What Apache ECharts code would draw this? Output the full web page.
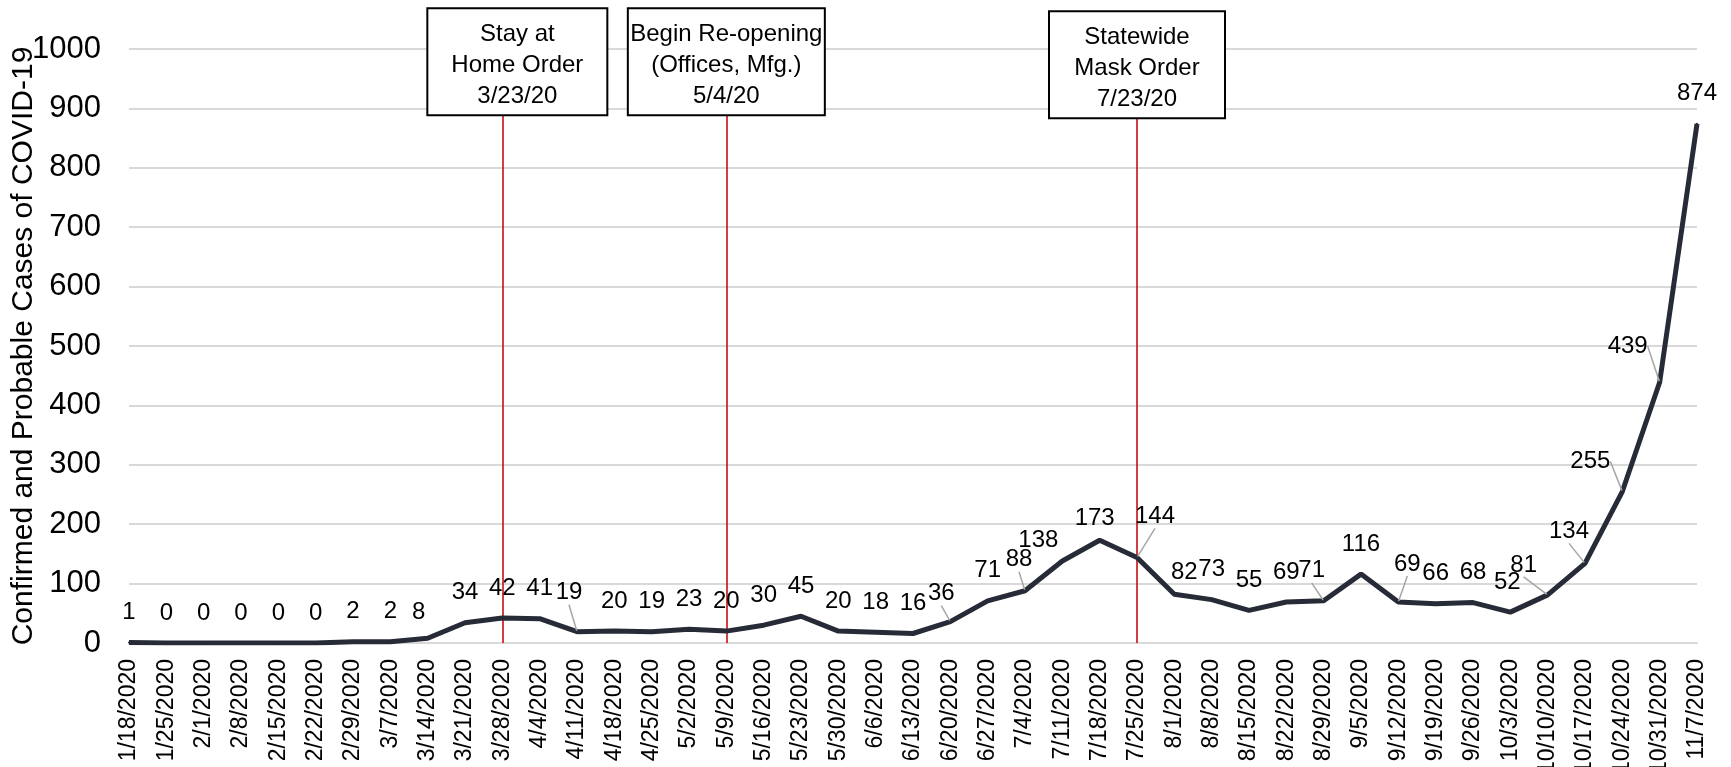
<!DOCTYPE html>
<html><head><meta charset="utf-8">
<script src="https://cdn.jsdelivr.net/npm/echarts@6/dist/echarts.min.js"></script>
<style>html,body{margin:0;padding:0;background:#fff}#c{width:1731px;height:767px}</style>
</head><body><div id="c"></div>
<script>
// ---------- data ----------
const categories = ['1/18/2020','1/25/2020','2/1/2020','2/8/2020','2/15/2020','2/22/2020','2/29/2020','3/7/2020','3/14/2020','3/21/2020','3/28/2020','4/4/2020','4/11/2020','4/18/2020','4/25/2020','5/2/2020','5/9/2020','5/16/2020','5/23/2020','5/30/2020','6/6/2020','6/13/2020','6/20/2020','6/27/2020','7/4/2020','7/11/2020','7/18/2020','7/25/2020','8/1/2020','8/8/2020','8/15/2020','8/22/2020','8/29/2020','9/5/2020','9/12/2020','9/19/2020','9/26/2020','10/3/2020','10/10/2020','10/17/2020','10/24/2020','10/31/2020','11/7/2020'];
const cases = [1,0,0,0,0,0,2,2,8,34,42,41,19,20,19,23,20,30,45,20,18,16,36,71,88,138,173,144,82,73,55,69,71,116,69,66,68,52,81,134,255,439,874];
const yMin = 0, yMax = 1000, yInterval = 100;
const yAxisTitle = 'Confirmed and Probable Cases of COVID-19';
const eventDates = ['3/28/2020','5/9/2020','7/25/2020'];
const eventTexts = ['Stay at\nHome Order\n3/23/20','Begin Re-opening\n(Offices, Mfg.)\n5/4/20','Statewide\nMask Order\n7/23/20'];

// ---------- styling (label placement, box sizes) ----------
const FONT = "'Liberation Sans', Arial, sans-serif";
const labelNudge = {8:[-9,4],12:[-8,-9],22:[-9,2],24:[-6,-1],25:[-24,9],26:[-5,8],27:[18,-11],28:[10,8],32:[-12,0],34:[9,-8],37:[-3,0],38:[-24,0],39:[-16,-2],40:[-32,0],41:[-32,-6]};
const leaderIdx = [12,22,24,27,32,34,38,39,40,41];
const boxStyle = [{w:178, top:890, dx:15},{w:195, top:890, dx:0},{w:174, top:885, dx:0}];

const seriesData = cases.map((v, i) => {
  const item = {value: v};
  if (leaderIdx.indexOf(i) >= 0) {
    item.labelLine = {show: true, lineStyle: {color: '#a6a6a6', width: 1.5}};
  }
  return item;
});

const markLineData = eventDates.map((d, k) => [
  {coord: [d, 0]},
  {coord: [d, boxStyle[k].top],
   label: {
     show: true, position: 'end', distance: 0,
     formatter: eventTexts[k],
     offset: [boxStyle[k].dx, 0],
     color: '#000', fontFamily: FONT, fontSize: 24, lineHeight: 31,
     align: 'center',
     width: boxStyle[k].w,
     backgroundColor: '#fff', borderColor: '#000', borderWidth: 2,
     padding: [10, 0, 2, 0]
   }}
]);

const chart = echarts.init(document.getElementById('c'), null, {renderer: 'canvas'});
chart.setOption({
  animation: false,
  backgroundColor: '#fff',
  grid: {left: 129, right: 34, top: 49, bottom: 124, containLabel: false, outerBoundsMode: 'none'},
  xAxis: {
    type: 'category', data: categories, boundaryGap: false,
    axisLine: {show: true, lineStyle: {color: '#d9d9d9', width: 2}},
    axisTick: {show: false},
    axisLabel: {rotate: 90, interval: 0, margin: 16, color: '#000', fontSize: 23, fontFamily: FONT, hideOverlap: false},
    splitLine: {show: false}
  },
  yAxis: {
    type: 'value', min: yMin, max: yMax, interval: yInterval,
    name: yAxisTitle, nameLocation: 'middle', nameGap: 90, nameRotate: 90, nameMoveOverlap: false,
    nameTextStyle: {color: '#000', fontSize: 30, fontFamily: FONT},
    axisLine: {show: false}, axisTick: {show: false},
    axisLabel: {color: '#000', fontSize: 31, fontFamily: FONT, margin: 28, formatter: v => String(v)},
    splitLine: {show: true, lineStyle: {color: '#d9d9d9', width: 2}}
  },
  series: [{
    type: 'line', data: seriesData,
    symbol: 'circle', symbolSize: 2,
    itemStyle: {color: '#262b37'},
    lineStyle: {color: '#262b37', width: 5},
    label: {show: true, position: 'top', distance: 17, color: '#000', fontSize: 24, fontFamily: FONT},
    labelLayout: function (p) {
      const n = labelNudge[p.dataIndex];
      return n ? {dx: n[0], dy: n[1]} : {};
    },
    z: 3,
    markLine: {
      silent: true, symbol: ['none', 'none'],
      lineStyle: {color: '#c00000', width: 1.5, type: 'solid'},
      data: markLineData,
      z: 2
    }
  }]
});
</script>
</body></html>
